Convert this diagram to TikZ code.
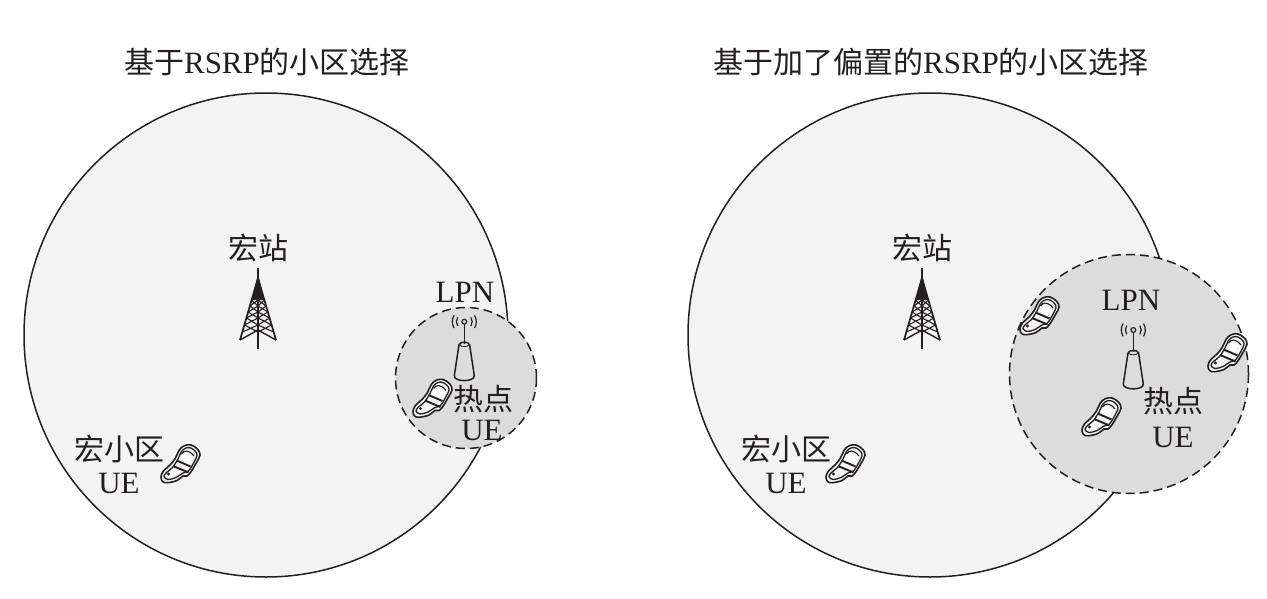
\documentclass[tikz,border=0pt]{standalone}
\usepackage{fontspec}
\setmainfont{Liberation Serif}
\newfontfamily\cjk{Noto Sans CJK SC}
\newcommand{\cn}[1]{{\cjk\fontsize{30}{30}\selectfont #1}}
\definecolor{macrogray}{HTML}{F3F3F3}
\definecolor{hotgray}{HTML}{DCDCDC}
\definecolor{inkgray}{HTML}{231F20}
\tikzset{
	macrocell/.style={draw=inkgray,fill=macrogray,line width=1.5pt},
	hotcell/.style={draw=inkgray,fill=hotgray,line width=1.5pt,dash pattern=on 9pt off 5pt},
	lbl/.style={inner sep=0pt,text=inkgray,font=\fontsize{31}{31}\selectfont},
	pics/towerpic/.style={code={
		\draw[inkgray,line width=2pt] (0,0) -- (0,81);
		\fill[inkgray] (0,6) -- (5.8,32) -- (-5.8,32) -- cycle;
		\draw[inkgray,line width=1.7pt] (0,10) -- (18,72) (0,10) -- (-18,72);
		\draw[inkgray,line width=1.1pt]
		(-6.4,32) -- (0,38) -- (6.4,32) (-8,38) -- (0,32) -- (8,38)
		(-8,38) -- (0,44) -- (8,38) (-9.9,44) -- (0,38) -- (9.9,44)
		(-9.9,44) -- (0,50) -- (9.9,44) (-11.6,50) -- (0,44) -- (11.6,50)
		(-11.6,50) -- (0,57) -- (11.6,50) (-13.6,57) -- (0,50) -- (13.6,57)
		(-13.6,57) -- (0,64) -- (13.6,57) (-15.7,64) -- (0,57) -- (15.7,64);
		\draw[inkgray,line width=1.4pt] (-18,72) -- (0,62) -- (18,72);
	}},
	pics/lpnpic/.style={code={
		\draw[inkgray,line width=1.2pt] (0,0) circle (2.4);
		\draw[inkgray,line width=1.2pt] (0,2.4) -- (0,22);
		\draw[inkgray,line width=1.2pt] (-6.6,-4.4) arc (213:147:8) (6.6,-4.4) arc (-33:33:8);
		\draw[inkgray,line width=1.2pt] (-10.2,-6.4) arc (212:148:12) (10.2,-6.4) arc (-32:32:12);
		\draw[inkgray,line width=1.5pt] (-5.3,23) .. controls (-4,19.5) and (4,19.5) .. (5.3,23)
		-- (10,54) .. controls (10.5,60.5) and (-10.5,60.5) .. (-10,54) -- cycle;
		\draw[inkgray,line width=0.8pt] (-5.3,23) .. controls (-3,25.5) and (3,25.5) .. (5.3,23);
	}},
	pics/phonepic/.style={code={
		\draw[inkgray,fill=macrogray,line width=1.6pt] plot[smooth cycle,tension=0.6] coordinates
		{(-19,12) (-16.7,6.2) (-10,0) (-4.7,-6.7) (-0.7,-15) (4.3,-19.3) (11,-20) (17.7,-15.7)
		(20,-9.7) (16,-1.7) (11,6.7) (7,11) (3,11) (-3,15.5) (-12.3,17.7) (-17.3,16.7)};
		\draw[inkgray,line width=1.3pt] plot[smooth cycle,tension=0.6] coordinates
		{(-16,11.5) (-13.5,7.5) (-7.5,2.5) (-2,-6) (1.5,-13.5) (6,-17) (11,-17) (15.5,-13.5)
		(17,-9.5) (13,-1) (8.5,6) (3,8) (-4,12.5) (-12,14.5)};
		\fill[white] (-1,-6) -- (3,-11.5) -- (11,-8) -- (8,-2) -- cycle;
		\draw[inkgray,line width=1.9pt] (-7,1) -- (8.5,7.5) (-3.5,-4.5) -- (10.5,1.5);
		\draw[inkgray,line width=1.1pt] (1.5,-11) .. controls (4,-15) and (9,-15.5) .. (14,-9);
		\fill[inkgray] (-11.5,9) circle (1.6);
	}},
}
\begin{document}
\begin{tikzpicture}[x=1pt,y=-1pt]
	\useasboundingbox (0,0) rectangle (1267,599);
	% left cell
	\draw[macrocell] (266,335) circle (242);
	\draw[hotcell] (466,378) circle (70.5);
	\node[lbl] (titleleft) at (267,62) {\cn{基于}RSRP\cn{的小区选择}};
	\node[lbl] (macroleft) at (258,248) {\cn{宏站}};
	\pic (towerleft) at (258,268) {towerpic};
	\node[lbl] (lpnleft) at (465,292) {LPN};
	\pic (apleft) at (464.3,321.7) {lpnpic};
	\pic (uehotleft) at (432,399.5) {phonepic};
	\node[lbl] (hotleft) at (483,399) {\cn{热点}};
	\node[lbl] (uehottextleft) at (482,430) {UE};
	\node[lbl] (cellleft) at (119,449) {\cn{宏小区}};
	\node[lbl] (uecellleft) at (119,483) {UE};
	\pic (uemacroleft) at (180,465) {phonepic};
	% right cell
	\draw[macrocell] (930,335) circle (242);
	\draw[hotcell] (1129,374) circle (119.5);
	\node[lbl] (titleright) at (931,62) {\cn{基于加了偏置的}RSRP\cn{的小区选择}};
	\node[lbl] (macroright) at (922,248) {\cn{宏站}};
	\pic (towerright) at (922,268) {towerpic};
	\node[lbl] (lpnright) at (1131,300) {LPN};
	\pic (apright) at (1133.3,330) {lpnpic};
	\pic (uehotone) at (1039,317) {phonepic};
	\pic (uehottwo) at (1227,354) {phonepic};
	\pic (uehotthree) at (1101,418) {phonepic};
	\node[lbl] (hotright) at (1173,401) {\cn{热点}};
	\node[lbl] (uehottextright) at (1173,437) {UE};
	\node[lbl] (cellright) at (786,449) {\cn{宏小区}};
	\node[lbl] (uecellright) at (786,483) {UE};
	\pic (uemacroright) at (845,465) {phonepic};
\end{tikzpicture}
\end{document}
